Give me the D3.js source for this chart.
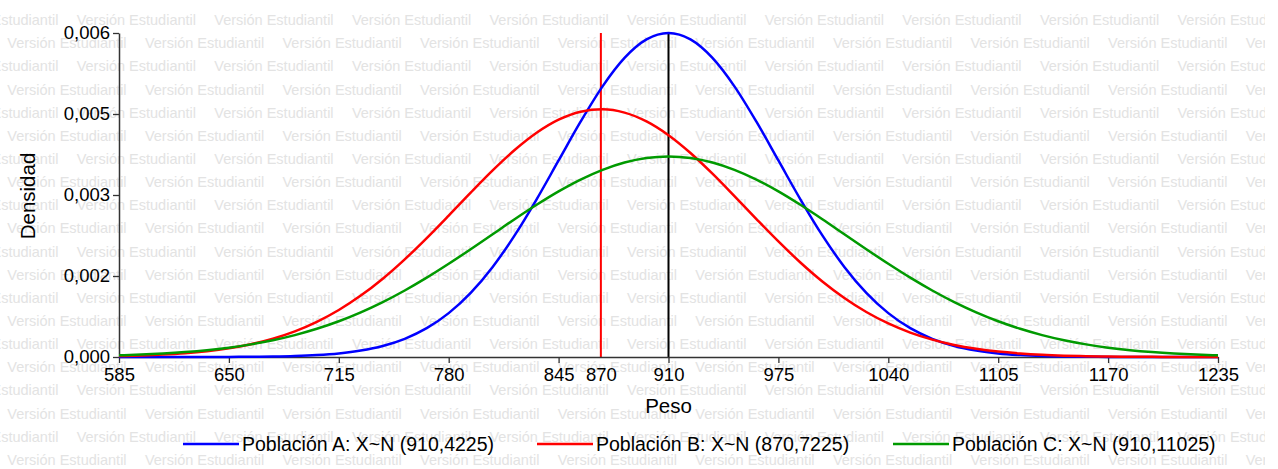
<!DOCTYPE html>
<html>
<head>
<meta charset="utf-8">
<script src="https://cdn.jsdelivr.net/npm/d3@7/dist/d3.min.js"></script>
<style>
  html, body { margin: 0; padding: 0; background: #fff; }
  svg { display: block; font-family: "Liberation Sans", Arial, sans-serif; }
</style>
</head>
<body>
<svg id="chart" width="1278" height="469"></svg>
<script>
// ---- data ----
const pesos = [585, 598, 611, 624, 637, 650, 663, 676, 689, 702, 715, 728, 741, 754, 767, 780, 793, 806, 819, 832, 845, 858, 871, 884, 897, 910, 923, 936, 949, 962, 975, 988, 1001, 1014, 1027, 1040, 1053, 1066, 1079, 1092, 1105, 1118, 1131, 1144, 1157, 1170, 1183, 1196, 1209, 1222, 1235];

const densidadA = [0.00000002, 0.00000006, 0.00000016, 0.0000004, 0.0000009, 0.000002, 0.0000045, 0.0000094, 0.000019, 0.000037, 0.000068, 0.000122, 0.000209, 0.000345, 0.000546, 0.000831, 0.001215, 0.001707, 0.002303, 0.002987, 0.003723, 0.004457, 0.005127, 0.005666, 0.006016, 0.006138, 0.006016, 0.005666, 0.005127, 0.004457, 0.003723, 0.002987, 0.002303, 0.001707, 0.001215, 0.000831, 0.000546, 0.000345, 0.000209, 0.000122, 0.000068, 0.000037, 0.000019, 0.0000094, 0.0000045, 0.000002, 0.0000009, 0.0000004, 0.00000016, 0.00000006, 0.00000002];

const densidadB = [0.000017, 0.000028, 0.000045, 0.000071, 0.000110, 0.000165, 0.000242, 0.000347, 0.000486, 0.000666, 0.000890, 0.001163, 0.001484, 0.001850, 0.002253, 0.002679, 0.003114, 0.003535, 0.003920, 0.004247, 0.004495, 0.004647, 0.004693, 0.004630, 0.004462, 0.004201, 0.003864, 0.003472, 0.003047, 0.002613, 0.002189, 0.001791, 0.001431, 0.001118, 0.000852, 0.000635, 0.000462, 0.000329, 0.000228, 0.000155, 0.000103, 0.000067, 0.000042, 0.000026, 0.000016, 0.000009, 0.000005, 0.000003, 0.0000015, 0.0000008, 0.0000004];

const densidadC = [0.000032, 0.000046, 0.000066, 0.000093, 0.000129, 0.000177, 0.000239, 0.000317, 0.000415, 0.000534, 0.000677, 0.000846, 0.001040, 0.001260, 0.001503, 0.001766, 0.002042, 0.002326, 0.002610, 0.002883, 0.003137, 0.003361, 0.003546, 0.003685, 0.003771, 0.003800, 0.003771, 0.003685, 0.003546, 0.003361, 0.003137, 0.002883, 0.002610, 0.002326, 0.002042, 0.001766, 0.001503, 0.001260, 0.001040, 0.000846, 0.000677, 0.000534, 0.000415, 0.000317, 0.000239, 0.000177, 0.000129, 0.000093, 0.000066, 0.000046, 0.000032];

const seriesNames = ["Población A: X~N (910,4225)", "Población B: X~N (870,7225)", "Población C: X~N (910,11025)"];
const seriesColors = ["#0000ff", "#ff0000", "#009a00"];

const xTicks = [585, 650, 715, 780, 845, 870, 910, 975, 1040, 1105, 1170, 1235];
const xTicksNoMark = [870];
const yTicks = [0, 0.0015344, 0.0030688, 0.0046032, 0.0061376];
const yTickLabels = ["0,000", "0,002", "0,003", "0,005", "0,006"];

const mediaLines = [870, 910];
const mediaColors = ["#ff0000", "#000000"];

const xTitle = "Peso";
const yTitle = "Densidad";
const watermarkText = "Versión Estudiantil";

// ---- drawing ----
const W = 1278, H = 469;
const svg = d3.select("#chart");
svg.append("rect").attr("width", W).attr("height", H).attr("fill", "#fff");

// watermark (clipped like the original)
svg.append("defs").append("clipPath").attr("id", "wmclip")
  .append("rect").attr("x", 0).attr("y", 0).attr("width", 1265).attr("height", H);
const wm = svg.append("g").attr("clip-path", "url(#wmclip)")
  .attr("fill", "#e3e3e3").style("font-size", "14.5px");
const period = 137.6, rowStep = 23.15;
for (let k = 0; k < 20; k++) {
  const y0 = 20 + k * rowStep;
  const start = (k % 2 === 0) ? 76.7 - period : 7.3;
  for (let n = 0; start + n * period < W; n++) {
    wm.append("text")
      .attr("x", start + n * period)
      .attr("y", y0)
      .attr("dy", "0.35em")
      .text(watermarkText);
  }
}

const x = d3.scaleLinear().domain([585, 1235]).range([119, 1218]);
const y = d3.scaleLinear().domain([0, yTicks[yTicks.length - 1]]).range([357, 33]);

// vertical mean lines
svg.append("g").selectAll("line").data(mediaLines).join("line")
  .attr("x1", d => x(d)).attr("x2", d => x(d))
  .attr("y1", y(yTicks[yTicks.length - 1])).attr("y2", y(0))
  .attr("stroke", (d, i) => mediaColors[i])
  .attr("stroke-width", 2);

// axes
const xAxis = svg.append("g")
  .attr("transform", `translate(0,${y(0)})`)
  .call(d3.axisBottom(x).tickValues(xTicks).tickSize(6).tickSizeOuter(0).tickPadding(5).tickFormat(d3.format("d")));
xAxis.selectAll(".tick").filter(d => xTicksNoMark.includes(d)).select("line").remove();

const yAxis = svg.append("g")
  .attr("transform", `translate(${x(585)},0)`)
  .call(d3.axisLeft(y).tickValues(yTicks).tickSize(6).tickSizeOuter(0).tickPadding(3).tickFormat((d, i) => yTickLabels[i]));

[xAxis, yAxis].forEach(g => {
  g.select(".domain").attr("stroke", "#333").attr("stroke-width", 1.5);
  g.selectAll(".tick line").attr("stroke", "#333").attr("stroke-width", 1.3);
  g.selectAll(".tick text").attr("fill", "#000").style("font-size", "18.5px")
    .style("font-family", "'Liberation Sans', Arial, sans-serif");
});

// curves
const series = [densidadA, densidadB, densidadC];
const line = d3.line().x(d => x(d[0])).y(d => y(d[1])).curve(d3.curveMonotoneX);
svg.append("g").selectAll("path").data(series).join("path")
  .attr("d", s => line(pesos.map((p, i) => [p, s[i]])))
  .attr("fill", "none")
  .attr("stroke", (d, i) => seriesColors[i])
  .attr("stroke-width", 2.5)
  .attr("stroke-linejoin", "round");

// axis titles
svg.append("text").attr("x", x(910)).attr("y", 413)
  .attr("text-anchor", "middle").style("font-size", "20.5px").text(xTitle);
svg.append("text").attr("transform", `translate(35,196) rotate(-90)`)
  .attr("text-anchor", "middle").style("font-size", "20.5px").text(yTitle);

// legend
const legendLineX = [183, 537, 893];
const leg = svg.append("g");
seriesNames.forEach((name, i) => {
  leg.append("line").attr("x1", legendLineX[i]).attr("x2", legendLineX[i] + 56)
    .attr("y1", 444).attr("y2", 444)
    .attr("stroke", seriesColors[i]).attr("stroke-width", 2.5);
  leg.append("text").attr("x", legendLineX[i] + 59).attr("y", 444)
    .attr("dy", "0.35em").style("font-size", "19.5px").text(name);
});
</script>
</body>
</html>
